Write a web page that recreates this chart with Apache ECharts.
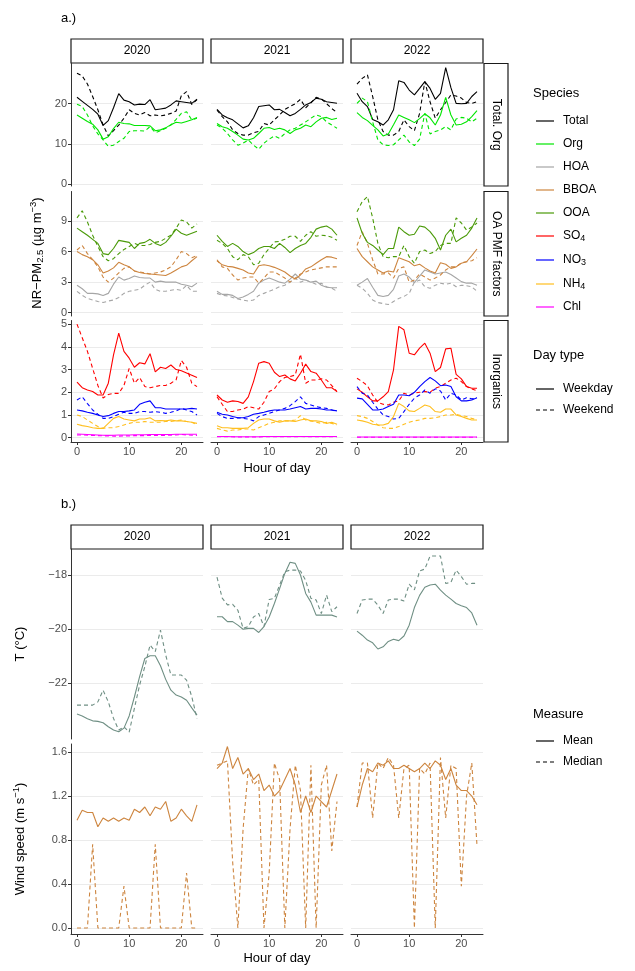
<!DOCTYPE html>
<html><head><meta charset="utf-8">
<script src="https://cdn.jsdelivr.net/npm/echarts@6.0.0/dist/echarts.min.js"></script>
<style>html,body{margin:0;padding:0;background:#fff}#c{width:635px;height:971px}</style>
</head><body><div id="c"></div>
<script>
// ---------------- DATA ----------------
const hours = [0,1,2,3,4,5,6,7,8,9,10,11,12,13,14,15,16,17,18,19,20,21,22,23];
const years = ['2020','2021','2022'];
const xTicks = [0, 10, 20];
const ticksTotal = [0, 10, 20];
const ticksOA = [0, 3, 6, 9];
const ticksInorg = [0, 1, 2, 3, 4, 5];
const ticksT = [-22, -20, -18];
const ticksWind = [0, 0.4, 0.8, 1.2, 1.6];

// 2020
const total_wd_2020 = [21.6,20.6,19.6,18.6,17.4,14.6,15.8,19.0,22.5,20.9,20.5,19.7,19.9,19.8,21.0,18.5,18.7,18.9,19.7,20.7,20.5,20.3,20.1,21.1];
const total_we_2020 = [27.6,26.9,24.9,21.8,18.5,14.7,12.0,13.3,14.7,16.4,18.5,17.6,17.2,17.8,17.0,17.2,17.0,17.2,17.6,18.2,22.0,23.0,19.8,21.0];
const org_wd_2020 = [17.2,16.4,15.6,14.9,13.5,11.2,11.8,13.8,15.4,15.1,15.0,14.6,14.6,14.6,14.5,13.3,13.5,14.0,14.8,15.4,15.2,15.6,16.0,16.6];
const org_we_2020 = [19.9,19.3,17.2,14.5,12.5,11.0,9.4,9.7,10.6,11.4,13.1,13.3,13.3,13.2,14.3,12.8,13.3,13.9,14.7,16.1,17.6,18.0,16.0,16.4];
const hoa_wd_2020 = [2.7,2.35,1.9,1.9,1.85,1.7,1.9,2.8,3.5,3.2,3.35,3.6,3.45,3.4,3.4,3.0,3.1,3.0,3.0,3.0,2.8,2.7,2.55,2.9];
const hoa_we_2020 = [2.1,1.7,1.4,1.25,1.1,1.0,1.15,1.25,1.5,1.9,2.1,2.2,2.3,2.7,3.0,2.3,2.1,2.1,2.2,2.3,2.2,2.7,2.1,2.1];
const bboa_wd_2020 = [6.0,5.7,5.5,5.2,4.7,3.9,4.1,4.4,4.95,4.7,4.5,4.1,3.95,3.85,3.8,3.75,3.7,3.65,3.9,4.2,4.5,4.65,5.1,5.5];
const bboa_we_2020 = [6.15,6.6,5.8,5.2,4.5,3.5,3.0,3.4,3.9,4.35,4.5,4.1,4.0,3.9,3.8,3.9,4.0,4.2,4.5,5.2,6.0,5.8,5.4,5.6];
const ooa_wd_2020 = [8.3,7.95,7.6,7.2,6.8,5.8,5.7,6.3,7.1,7.0,6.9,6.3,6.8,6.9,7.2,6.8,6.6,6.9,7.5,8.2,7.8,7.6,7.8,8.0];
const ooa_we_2020 = [9.3,10.0,8.9,7.6,6.5,5.5,5.1,5.3,5.8,6.2,6.5,6.8,6.6,6.6,6.7,6.9,7.0,7.3,7.6,8.3,9.1,8.9,8.3,8.7];
const so4_wd_2020 = [2.45,2.2,2.1,2.03,1.88,1.88,2.4,3.65,4.6,3.8,3.5,3.1,3.3,3.25,3.7,2.9,3.1,3.05,3.2,3.0,2.95,2.85,2.75,2.65];
const so4_we_2020 = [5.0,4.4,3.8,3.05,2.3,1.75,1.9,1.95,1.95,2.3,3.05,2.4,2.65,2.25,2.2,2.25,2.3,2.3,2.4,2.55,3.4,3.1,2.4,2.25];
const no3_wd_2020 = [1.22,1.18,1.12,1.07,1.0,0.93,0.97,1.07,1.15,1.15,1.18,1.22,1.47,1.56,1.62,1.32,1.32,1.26,1.26,1.26,1.26,1.26,1.29,1.26];
const no3_we_2020 = [1.66,1.8,1.5,1.22,1.03,0.85,0.85,0.93,1.03,1.12,1.07,1.07,1.15,1.15,1.12,1.15,1.12,1.07,1.12,1.18,1.29,1.22,1.15,1.0];
const nh4_wd_2020 = [0.59,0.53,0.49,0.44,0.41,0.41,0.63,0.85,0.93,0.82,0.78,0.74,0.82,0.82,0.88,0.74,0.76,0.74,0.78,0.74,0.74,0.71,0.68,0.63];
const nh4_we_2020 = [1.0,0.93,0.78,0.63,0.49,0.41,0.44,0.44,0.49,0.56,0.63,0.68,0.68,0.71,0.68,0.68,0.68,0.71,0.71,0.74,0.78,0.71,0.68,0.56];
const chl_wd_2020 = [0.16,0.15,0.14,0.13,0.12,0.11,0.10,0.11,0.12,0.12,0.12,0.13,0.13,0.13,0.14,0.14,0.14,0.14,0.14,0.15,0.15,0.15,0.15,0.15];
const chl_we_2020 = [0.12,0.12,0.11,0.10,0.09,0.08,0.08,0.07,0.07,0.08,0.08,0.09,0.09,0.09,0.10,0.10,0.10,0.10,0.11,0.12,0.14,0.12,0.11,0.10];
// 2021
const total_wd_2021 = [18.6,17.2,16.5,16.0,15.0,14.0,14.5,16.5,19.3,19.5,19.7,18.5,18.6,17.8,17.0,17.6,18.6,19.7,20.3,21.4,21.1,20.5,20.3,20.1];
const total_we_2021 = [18.4,16.8,15.5,13.5,12.6,12.2,12.2,12.8,13.1,15.1,14.7,16.0,17.2,18.6,19.3,20.0,21.1,19.0,20.2,21.6,21.2,20.0,18.8,17.8];
const org_wd_2021 = [15.1,14.3,13.9,13.1,12.2,11.2,11.0,11.4,12.6,13.9,14.1,13.6,13.9,13.5,12.6,13.5,13.9,14.7,14.3,15.5,16.4,16.6,16.1,16.4];
const org_we_2021 = [14.7,13.9,12.6,11.0,9.7,10.2,11.0,9.7,8.7,10.2,11.2,12.0,11.4,12.6,13.5,13.9,14.7,15.5,16.4,17.2,16.8,15.5,14.7,13.9];
const hoa_wd_2021 = [2.1,1.8,1.8,1.7,1.4,1.55,1.8,2.1,2.9,3.2,3.4,3.2,3.0,2.9,3.3,3.8,3.3,3.2,3.0,3.1,2.7,2.5,2.45,2.45];
const hoa_we_2021 = [1.9,1.7,1.65,1.5,1.35,1.25,1.15,1.25,1.7,1.9,2.1,2.3,2.55,2.7,3.0,3.4,3.0,3.2,3.0,2.8,2.9,2.55,2.4,2.1];
const bboa_wd_2021 = [5.1,4.7,4.55,4.5,4.35,4.2,3.9,3.8,4.6,4.7,4.6,4.45,4.25,4.0,3.6,3.3,3.7,4.3,4.5,4.85,5.2,5.5,5.45,5.3];
const bboa_we_2021 = [5.2,4.5,4.35,3.7,3.2,3.4,3.5,3.5,2.9,3.4,4.0,4.0,3.7,3.4,3.0,3.4,3.8,4.0,4.2,4.3,4.4,4.5,4.5,4.5];
const ooa_wd_2021 = [7.6,7.0,6.5,6.8,6.5,6.0,5.7,5.9,6.3,6.5,6.5,6.3,6.8,6.4,5.9,6.3,6.6,6.8,7.4,8.2,8.4,8.5,8.2,7.6];
const ooa_we_2021 = [7.1,6.8,6.3,5.5,5.2,5.7,5.5,4.7,4.85,5.7,6.3,6.95,7.0,7.2,7.5,7.5,7.0,7.6,7.95,7.5,7.6,7.55,7.4,7.1];
const so4_wd_2021 = [1.88,1.66,1.56,1.62,1.59,1.51,1.8,2.47,3.28,3.35,3.28,2.88,2.69,2.76,2.59,2.5,2.84,3.24,2.91,2.84,2.54,2.2,2.2,2.03];
const so4_we_2021 = [1.8,1.47,1.15,1.15,1.22,1.26,1.37,1.32,1.26,1.56,2.03,2.15,2.47,2.65,2.69,2.76,3.68,2.4,2.54,2.54,2.59,2.54,2.29,2.03];
const no3_wd_2021 = [1.12,1.03,1.0,0.93,0.88,0.88,0.93,1.03,1.07,1.12,1.18,1.22,1.22,1.22,1.26,1.32,1.37,1.26,1.29,1.29,1.26,1.22,1.22,1.18];
const no3_we_2021 = [1.07,0.93,0.85,0.85,0.88,0.85,0.82,0.74,0.93,1.0,1.07,1.15,1.22,1.29,1.41,1.59,1.8,1.51,1.44,1.37,1.32,1.29,1.22,1.15];
const nh4_wd_2021 = [0.53,0.44,0.44,0.41,0.41,0.41,0.44,0.63,0.78,0.82,0.82,0.74,0.68,0.74,0.74,0.71,0.78,0.82,0.74,0.74,0.71,0.63,0.68,0.59];
const nh4_we_2021 = [0.41,0.34,0.29,0.34,0.34,0.38,0.38,0.34,0.44,0.53,0.63,0.68,0.74,0.74,0.74,0.78,0.97,0.78,0.74,0.68,0.63,0.68,0.63,0.56];
const chl_wd_2021 = [0.05,0.05,0.05,0.04,0.04,0.04,0.04,0.04,0.04,0.05,0.05,0.05,0.05,0.05,0.05,0.05,0.05,0.05,0.05,0.05,0.05,0.05,0.05,0.05];
const chl_we_2021 = [0.04,0.04,0.04,0.04,0.03,0.03,0.03,0.03,0.03,0.04,0.04,0.04,0.04,0.04,0.04,0.04,0.05,0.04,0.04,0.04,0.04,0.04,0.04,0.04];
// 2022
const total_wd_2022 = [22.6,20.5,19.3,16.1,15.5,14.7,16.0,18.5,25.7,25.3,23.4,22.2,23.8,25.5,23.8,21.1,22.6,29.0,24.0,20.1,20.0,20.1,21.8,23.0];
const total_we_2022 = [24.9,26.3,27.2,21.8,16.0,13.1,12.2,12.2,13.1,16.0,14.3,13.3,17.6,25.5,20.5,16.4,18.5,20.3,22.2,21.9,21.4,20.3,20.1,20.5];
const org_wd_2022 = [17.8,16.6,15.8,14.6,13.5,12.0,12.5,14.8,17.2,16.6,16.0,15.3,16.3,17.5,16.5,14.7,17.2,21.6,17.2,14.7,14.9,15.5,16.8,18.3];
const org_we_2022 = [20.1,21.4,20.5,15.5,11.0,9.8,9.6,9.8,11.0,12.2,10.5,9.6,11.2,17.6,12.5,13.1,13.5,14.3,13.5,16.2,16.6,16.4,15.5,16.4];
const hoa_wd_2022 = [2.7,3.0,3.35,2.5,1.7,1.6,1.7,2.3,3.6,3.8,3.5,2.95,3.6,4.2,4.0,3.8,3.9,4.0,3.75,3.4,3.05,2.9,2.9,2.7];
const hoa_we_2022 = [2.7,2.4,1.9,1.25,1.0,0.9,0.8,1.1,1.4,1.6,1.9,3.0,3.2,2.55,2.4,2.7,2.9,2.8,2.9,2.55,2.7,2.65,2.55,2.1];
const bboa_wd_2022 = [6.3,5.5,5.0,4.5,4.2,3.9,4.1,4.0,5.4,5.2,5.0,4.6,4.75,4.4,4.1,3.9,4.9,4.75,4.35,4.5,4.85,5.0,5.6,6.25];
const bboa_we_2022 = [6.6,7.95,6.8,5.2,3.8,3.8,3.9,3.4,4.35,4.5,3.0,3.2,3.8,3.5,3.2,3.4,3.7,4.2,4.5,4.5,4.9,5.0,5.1,5.4];
const ooa_wd_2022 = [9.3,7.8,6.9,6.6,6.15,5.7,6.3,6.3,8.4,7.95,7.6,7.7,8.5,8.4,7.95,7.3,6.15,7.6,8.2,6.95,7.3,7.6,8.3,9.3];
const ooa_we_2022 = [9.9,10.9,11.4,9.3,6.8,5.5,5.4,5.5,5.5,6.6,5.5,4.85,6.0,6.15,5.8,6.0,6.6,6.8,6.8,9.3,8.8,8.1,8.4,8.8];
const so4_wd_2022 = [2.15,2.0,1.8,1.62,1.62,1.8,2.03,2.99,4.9,4.75,3.72,3.65,3.94,4.16,3.72,2.91,3.09,3.91,3.94,2.79,2.59,2.25,2.18,2.18];
const so4_we_2022 = [2.62,2.47,2.29,1.88,1.56,1.47,1.44,1.56,1.62,1.96,1.88,1.96,2.0,2.03,2.0,2.18,2.25,2.4,2.54,2.62,2.47,2.25,2.15,2.06];
const no3_wd_2022 = [1.74,1.71,1.47,1.22,1.22,1.26,1.37,1.47,1.88,1.88,1.85,2.0,2.25,2.47,2.65,2.5,2.29,2.32,2.25,1.8,1.62,1.62,1.66,1.76];
const no3_we_2022 = [2.25,1.96,1.88,1.56,1.26,1.0,0.93,0.82,0.85,1.15,1.47,1.74,1.88,2.1,1.96,2.15,2.06,1.66,1.96,1.88,1.66,1.76,1.71,1.76];
const nh4_wd_2022 = [0.78,0.74,0.68,0.59,0.56,0.56,0.63,0.93,1.51,1.37,1.18,1.15,1.29,1.44,1.37,1.15,1.12,1.26,1.26,1.0,0.93,0.85,0.78,0.78];
const nh4_we_2022 = [0.97,0.93,0.85,0.71,0.56,0.44,0.41,0.41,0.49,0.59,0.68,0.74,0.78,0.85,0.85,0.88,0.93,1.0,1.0,1.03,0.97,0.93,0.85,0.78];
const chl_wd_2022 = [0.03,0.03,0.03,0.03,0.03,0.03,0.03,0.03,0.03,0.03,0.03,0.03,0.03,0.03,0.03,0.03,0.03,0.03,0.03,0.03,0.03,0.03,0.03,0.03];
const chl_we_2022 = [0.02,0.02,0.02,0.02,0.02,0.02,0.02,0.02,0.02,0.02,0.02,0.02,0.02,0.02,0.02,0.02,0.02,0.02,0.02,0.02,0.02,0.02,0.02,0.02];

// Meteorology
const t_mean_2020 = [-23.13,-23.2,-23.3,-23.38,-23.4,-23.45,-23.6,-23.72,-23.78,-23.65,-23.2,-22.5,-21.75,-21.08,-20.98,-20.98,-21.35,-21.85,-22.25,-22.43,-22.5,-22.62,-22.9,-23.17];
const t_median_2020 = [-22.8,-22.8,-22.8,-22.8,-22.68,-22.25,-22.68,-23.29,-23.72,-23.6,-23.8,-22.92,-22.06,-21.38,-20.58,-20.83,-20.03,-20.95,-21.69,-21.69,-21.69,-21.88,-22.49,-23.29];
const t_mean_2021 = [-19.54,-19.54,-19.72,-19.72,-19.85,-20.0,-19.97,-19.97,-20.12,-19.9,-19.55,-19.05,-18.5,-17.94,-17.53,-17.57,-18.0,-18.68,-19.0,-19.48,-19.48,-19.48,-19.48,-19.55];
const t_median_2021 = [-18.08,-18.85,-19.1,-19.08,-19.3,-19.97,-19.9,-19.55,-19.42,-19.9,-18.9,-18.86,-18.37,-17.88,-17.82,-17.82,-17.85,-18.2,-18.86,-18.92,-19.42,-18.74,-19.35,-19.17];
const t_mean_2022 = [-20.07,-20.22,-20.4,-20.5,-20.73,-20.65,-20.45,-20.37,-20.42,-20.25,-19.85,-19.2,-18.75,-18.45,-18.37,-18.34,-18.56,-18.74,-18.89,-19.05,-19.13,-19.2,-19.4,-19.85];
const t_median_2022 = [-19.42,-18.92,-18.89,-18.89,-19.11,-19.42,-18.92,-18.89,-18.89,-18.96,-18.34,-18.55,-17.85,-17.78,-17.3,-17.3,-17.3,-18.31,-18.27,-17.82,-18.06,-18.34,-18.31,-18.31];
const ws_mean_2020 = [0.98,1.07,1.05,1.05,0.92,1.0,0.97,1.0,0.97,1.0,0.98,1.08,1.05,1.1,1.02,1.1,1.08,1.15,0.97,1.0,1.08,1.02,0.97,1.12];
const ws_median_2020 = [0,0,0,0.76,0,0,0,0,0,0.38,0,0,0,0,0,0.76,0,0,0,0,0,0.5,0,0];
const ws_mean_2021 = [1.45,1.5,1.65,1.45,1.55,1.4,1.45,1.35,1.4,1.25,1.3,1.2,1.25,1.35,1.45,1.3,1.05,1.2,1.05,1.2,1.15,1.1,1.25,1.4];
const ws_median_2021 = [1.48,1.5,1.52,0.6,0,0.9,1.45,1.3,1.35,0,0.5,1.5,1.35,0,0.9,1.48,1.25,0,1.48,0,1.3,1.48,0.7,1.15];
const ws_mean_2022 = [1.1,1.3,1.45,1.42,1.5,1.48,1.52,1.45,1.45,1.48,1.45,1.42,1.45,1.5,1.45,1.52,1.48,1.35,1.45,1.3,1.25,1.25,1.2,1.12];
const ws_median_2022 = [1.1,1.5,1.5,1.0,1.5,1.45,1.55,1.48,1.0,1.45,1.48,0,1.45,1.4,1.5,0,1.55,1.0,1.48,1.45,0.38,1.2,1.5,0.75];

// ---------------- STYLE / LAYOUT ----------------
const FONT = '"Liberation Sans", Arial, Helvetica, sans-serif';
const COL = {Total:'#000000', Org:'#00e600', HOA:'#a6a6a6', BBOA:'#cd853f', OOA:'#4a9a08',
  SO4:'#ff0000', NO3:'#0000ff', NH4:'#ffbf1f', Chl:'#ff00ff', T:'#6f8f84', WS:'#cd853f'};
const DASH = [4, 3];
const colLeft = [71, 211, 351];
const colW = 132;

const speciesData = {
  Total: [[total_wd_2020,total_we_2020],[total_wd_2021,total_we_2021],[total_wd_2022,total_we_2022]],
  Org:   [[org_wd_2020,org_we_2020],[org_wd_2021,org_we_2021],[org_wd_2022,org_we_2022]],
  HOA:   [[hoa_wd_2020,hoa_we_2020],[hoa_wd_2021,hoa_we_2021],[hoa_wd_2022,hoa_we_2022]],
  BBOA:  [[bboa_wd_2020,bboa_we_2020],[bboa_wd_2021,bboa_we_2021],[bboa_wd_2022,bboa_we_2022]],
  OOA:   [[ooa_wd_2020,ooa_we_2020],[ooa_wd_2021,ooa_we_2021],[ooa_wd_2022,ooa_we_2022]],
  SO4:   [[so4_wd_2020,so4_we_2020],[so4_wd_2021,so4_we_2021],[so4_wd_2022,so4_we_2022]],
  NO3:   [[no3_wd_2020,no3_we_2020],[no3_wd_2021,no3_we_2021],[no3_wd_2022,no3_we_2022]],
  NH4:   [[nh4_wd_2020,nh4_we_2020],[nh4_wd_2021,nh4_we_2021],[nh4_wd_2022,nh4_we_2022]],
  Chl:   [[chl_wd_2020,chl_we_2020],[chl_wd_2021,chl_we_2021],[chl_wd_2022,chl_we_2022]]
};
const topRows = [
  {top:63.5, h:122.5, min:-0.45, max:30.0, ticks:ticksTotal, species:['Total','Org'], strip:'Total. Org'},
  {top:191.5, h:124.5, min:-0.32, max:11.89, ticks:ticksOA, species:['HOA','BBOA','OOA'], strip:'OA PMF factors'},
  {top:320.5, h:121.5, min:-0.19, max:5.16, ticks:ticksInorg, species:['SO4','NO3','NH4','Chl'], strip:'Inorganics'}
];
const metData = {
  T:  [[t_mean_2020,t_median_2020],[t_mean_2021,t_median_2021],[t_mean_2022,t_median_2022]],
  WS: [[ws_mean_2020,ws_median_2020],[ws_mean_2021,ws_median_2021],[ws_mean_2022,ws_median_2022]]
};
const botRows = [
  {top:549, h:190, min:-24.05, max:-17.04, ticks:ticksT, key:'T', fmt:v=>String(v).replace('-','\u2212')},
  {top:744, h:190, min:-0.055, max:1.673, ticks:ticksWind, key:'WS', fmt:v=>Number(v).toFixed(1)}
];

const grids=[], xAxes=[], yAxes=[], series=[];
function addPanel(left, top, width, height, ymin, ymax, yticks, showY, showX, yfmt) {
  const idx = grids.length;
  grids.push({left:left, top:top, width:width, height:height, containLabel:false});
  xAxes.push({gridIndex:idx, type:'value', min:-1.15, max:24.15, position:'bottom',
    axisLine:{show:showX, onZero:false, lineStyle:{color:'#333333', width:1}},
    axisTick:{show:showX, length:3, customValues:xTicks, lineStyle:{color:'#333333', width:1}},
    axisLabel:{show:showX, customValues:xTicks, color:'#4d4d4d', fontSize:11, margin:4, fontFamily:FONT},
    splitLine:{show:false}});
  yAxes.push({gridIndex:idx, type:'value', min:ymin, max:ymax,
    axisLine:{show:showY, onZero:false, lineStyle:{color:'#333333', width:1}},
    axisTick:{show:showY, length:3, customValues:yticks, lineStyle:{color:'#333333', width:1}},
    axisLabel:{show:showY, customValues:yticks, color:'#4d4d4d', fontSize:11, margin:4, fontFamily:FONT, formatter:yfmt},
    splitLine:{show:true, lineStyle:{color:'#ebebeb', width:1}}});
  return idx;
}
function addLine(idx, arr, color, dashed) {
  series.push({type:'line', xAxisIndex:idx, yAxisIndex:idx,
    data: hours.map((h,i)=>[h, arr[i]]), symbol:'none', showSymbol:false, silent:true,
    animation:false, lineStyle:{color:color, width:1.1, type: dashed ? DASH : 'solid'}});
}

topRows.forEach((r, ri) => {
  for (let c = 0; c < 3; c++) {
    const idx = addPanel(colLeft[c], r.top, colW, r.h, r.min, r.max, r.ticks, c===0, ri===2, v=>String(v));
    r.species.forEach(sp => {
      addLine(idx, speciesData[sp][c][0], COL[sp], false);
      addLine(idx, speciesData[sp][c][1], COL[sp], true);
    });
  }
});
botRows.forEach((r, ri) => {
  for (let c = 0; c < 3; c++) {
    const idx = addPanel(colLeft[c], r.top, colW, r.h, r.min, r.max, r.ticks, c===0, ri===1, r.fmt);
    addLine(idx, metData[r.key][c][0], COL[r.key], false);
    addLine(idx, metData[r.key][c][1], COL[r.key], true);
  }
});

// ---------------- TEXT HELPERS ----------------
const mctx = document.createElement('canvas').getContext('2d');
function tw(s, size){ mctx.font = size + 'px "Liberation Sans"'; return mctx.measureText(s).width; }
function rtext(parts, x, y, opt) {
  opt = opt || {};
  let total = 0;
  const widths = parts.map(p => { const w = tw(p.t, p.s); total += w; return w; });
  let cx = opt.align === 'left' ? 0 : -total/2;
  const children = parts.map((p, i) => {
    const el = {type:'text', x:cx, y:(p.dy||0), z:120, zlevel:0, style:{text:p.t, fontSize:p.s, fontFamily:FONT,
      fill:opt.fill||'#000000', align:'left', verticalAlign:'middle', textAlign:'left', textVerticalAlign:'middle'}};
    cx += widths[i];
    return el;
  });
  return {type:'group', x:x, y:y, rotation:opt.rot||0, children:children, z:120};
}
const G = [];
function strip(x, y, w, h, label, rot) {
  G.push({type:'rect', shape:{x:x, y:y, width:w, height:h}, style:{fill:'#ffffff', stroke:'#1a1a1a', lineWidth:1.2}, z:50});
  G.push(rtext([{t:label, s:12}], x + w/2, y + h/2, {rot:rot||0}));
}
// top strips
for (let c = 0; c < 3; c++) strip(colLeft[c], 39, colW, 24, years[c]);
topRows.forEach(r => strip(484, r.top, 24, r.h, r.strip, -Math.PI/2));
for (let c = 0; c < 3; c++) strip(colLeft[c], 525, colW, 24, years[c]);

// labels
G.push(rtext([{t:'a.)', s:13}], 61, 18, {align:'left'}));
G.push(rtext([{t:'b.)', s:13}], 61, 504, {align:'left'}));
G.push(rtext([{t:'Hour of day', s:13}], 277, 468));
G.push(rtext([{t:'Hour of day', s:13}], 277, 958));
G.push(rtext([{t:'NR\u2212PM', s:13}, {t:'2.5', s:9.5, dy:3}, {t:' (\u00b5g m', s:13}, {t:'\u22123', s:9.5, dy:-4}, {t:')', s:13}], 37, 253, {rot:Math.PI/2}));
G.push(rtext([{t:'T (\u00b0C)', s:13}], 20, 644, {rot:Math.PI/2}));
G.push(rtext([{t:'Wind speed (m s', s:13}, {t:'\u22121', s:9.5, dy:-4}, {t:')', s:13}], 20, 839, {rot:Math.PI/2}));

// legends
function legendKey(y, color, dashed) {
  G.push({type:'line', shape:{x1:536, y1:y, x2:554, y2:y}, style:{stroke:color, lineWidth:1.2, lineDash: dashed ? DASH : null}, z:100});
}
G.push(rtext([{t:'Species', s:13}], 533, 93, {align:'left'}));
const legItems = [
  ['Total', [{t:'Total', s:12}]], ['Org', [{t:'Org', s:12}]], ['HOA', [{t:'HOA', s:12}]],
  ['BBOA', [{t:'BBOA', s:12}]], ['OOA', [{t:'OOA', s:12}]],
  ['SO4', [{t:'SO', s:12}, {t:'4', s:9, dy:3}]], ['NO3', [{t:'NO', s:12}, {t:'3', s:9, dy:3}]],
  ['NH4', [{t:'NH', s:12}, {t:'4', s:9, dy:3}]], ['Chl', [{t:'Chl', s:12}]]
];
const legY = [121, 144, 167, 190, 213, 236, 260, 284, 307];
legItems.forEach((it, i) => { legendKey(legY[i], COL[it[0]], false); G.push(rtext(it[1], 563, legY[i], {align:'left'})); });
G.push(rtext([{t:'Day type', s:13}], 533, 355, {align:'left'}));
legendKey(389, '#000000', false); G.push(rtext([{t:'Weekday', s:12}], 563, 389, {align:'left'}));
legendKey(410, '#000000', true);  G.push(rtext([{t:'Weekend', s:12}], 563, 410, {align:'left'}));
G.push(rtext([{t:'Measure', s:13}], 533, 714, {align:'left'}));
legendKey(741, '#000000', false); G.push(rtext([{t:'Mean', s:12}], 563, 741, {align:'left'}));
legendKey(762, '#000000', true);  G.push(rtext([{t:'Median', s:12}], 563, 762, {align:'left'}));

const chart = echarts.init(document.getElementById('c'), null, {renderer:'canvas', width:635, height:971});
chart.setOption({
  backgroundColor:'#ffffff', animation:false,
  textStyle:{fontFamily:FONT},
  grid:grids, xAxis:xAxes, yAxis:yAxes, series:series, graphic:{elements:G}
});
</script></body></html>
